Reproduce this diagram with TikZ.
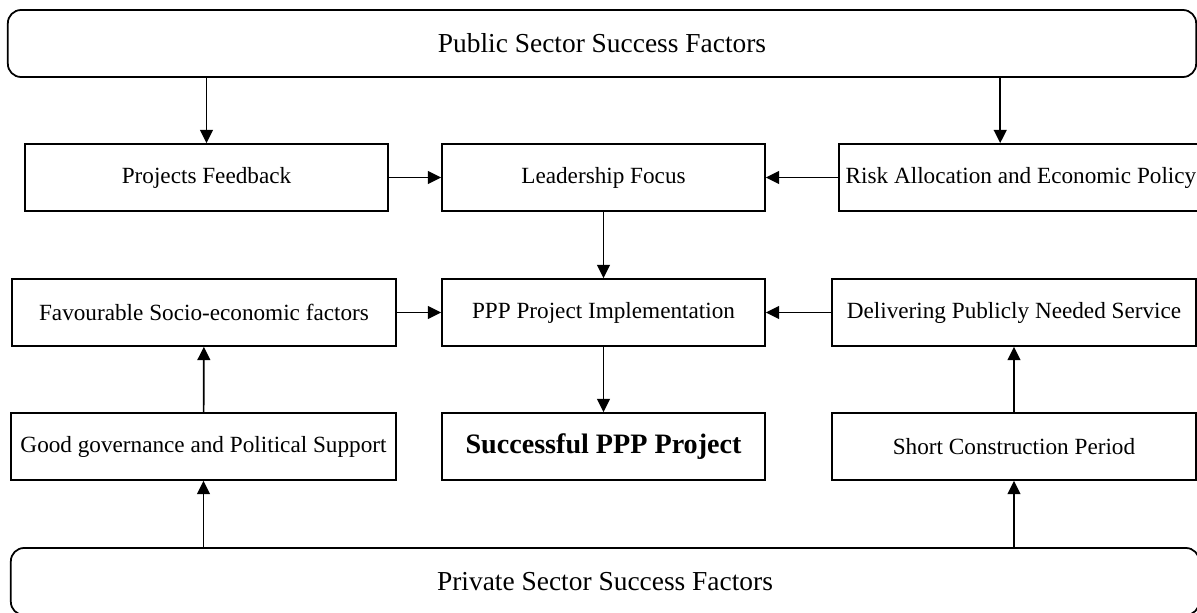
\documentclass[tikz,border=0pt]{standalone}
\usepackage{fontspec}
\setmainfont{Liberation Serif}
\usetikzlibrary{arrows.meta, positioning}

\tikzset{
  factor/.style={draw, line width=1.25pt, minimum height=1.675cm, inner sep=2pt,
    font=\fontsize{16.5}{19}\selectfont},
  sector/.style={factor, rounded corners=0.33cm, minimum width=29.7cm,
    font=\fontsize{19.5}{23}\selectfont},
  arr/.style={-{Triangle[length=0.33cm,width=0.32cm]}, line width=1.2pt}
}

\begin{document}
\begin{tikzpicture}[x=0.025cm, y=-0.025cm]
\useasboundingbox (0,0) rectangle (1197,612);

% sector bars
\node[sector] (pub) at (602,43.5) {Public Sector Success Factors};
\node[sector] (priv) at (605,581.5) {Private Sector Success Factors};

% first row
\node[factor, minimum width=9.075cm] (feedback) at (206.5,177.5) {Projects Feedback};
\node[factor, minimum width=8.075cm] (focus) at (603.5,177.5) {Leadership Focus};
\node[factor, minimum width=9.1cm] (risk) at (1021,177.5) {Risk Allocation and Economic Policy};

% second row
\node[factor, minimum width=9.6cm] (socio) at (204,312.5) {Favourable Socio-economic factors};
\node[factor, minimum width=8.075cm] (impl) at (603.5,312.5) {PPP Project Implementation};
\node[factor, minimum width=9.1cm] (service) at (1014,312.5) {Delivering Publicly Needed Service};

% third row
\node[factor, minimum width=9.625cm] (gov) at (203.5,446.5) {Good governance and Political Support};
\node[factor, minimum width=8.075cm, font=\fontsize{20}{24}\selectfont\bfseries] (success) at (603.5,446.5) {Successful PPP Project};
\node[factor, minimum width=9.1cm] (constr) at (1014,446.5) {Short Construction Period};

% connectors
\draw[arr] (feedback.north |- pub.south) -- (feedback.north);
\draw[arr] ([xshift=-0.52cm]risk.north |- pub.south) -- ([xshift=-0.52cm]risk.north);
\draw[arr] (feedback) -- (focus);
\draw[arr] (risk) -- (focus);
\draw[arr] (focus) -- (impl);
\draw[arr] (socio) -- (impl);
\draw[arr] (service) -- (impl);
\draw[arr] (impl) -- (success);
\draw[arr] (gov) -- (socio);
\draw[arr] (constr) -- (service);
\draw[arr] (gov.south |- priv.north) -- (gov.south);
\draw[arr] (constr.south |- priv.north) -- (constr.south);
\end{tikzpicture}
\end{document}
